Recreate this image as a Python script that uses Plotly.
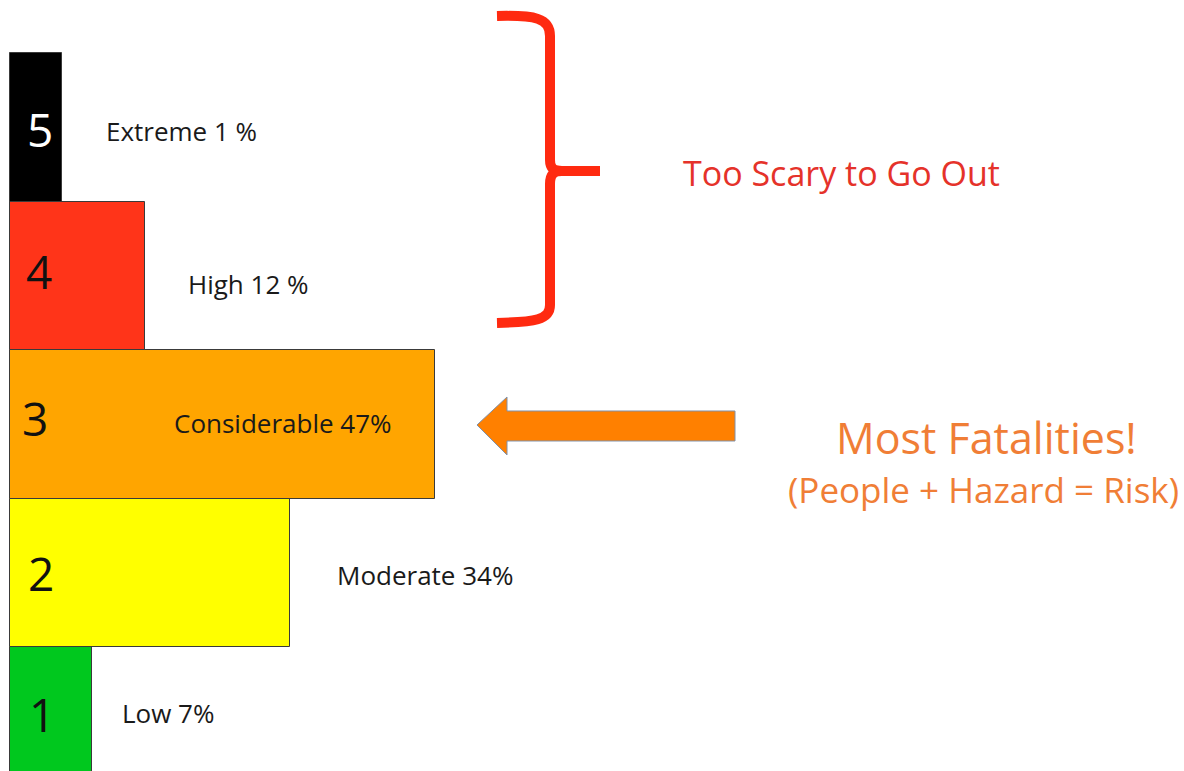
import plotly.graph_objects as go

# ---- data ----
levels = [1, 2, 3, 4, 5]
level_names = ["Low", "Moderate", "Considerable", "High", "Extreme"]
fatality_pct = ["7%", "34%", "47%", "12 %", "1 %"]
bar_length = [82, 280, 425, 135, 52]          # drawn bar lengths (picture units)
bar_colors = ["#00C81E", "#FFFF00", "#FFA500", "#FF3419", "#000000"]
num_colors = ["#111111", "#111111", "#111111", "#111111", "#FFFFFF"]

W, H = 1184, 771
FONT = "Open Sans"


def px(x, y):
    return x / W, 1 - y / H


def path_from(points, close=False):
    s = ""
    for cmd, pts in points:
        if cmd == "L":
            for p in pts:
                s += "L %.5f,%.5f " % px(*p)
        else:
            s += cmd + " " + " ".join("%.5f,%.5f" % px(*p) for p in pts) + " "
    if close:
        s += "Z"
    return s


fig = go.Figure()
fig.add_trace(go.Bar(
    y=levels, x=bar_length, orientation="h", width=1, base=0,
    marker=dict(color=bar_colors, line=dict(color="#3a3a3a", width=1)),
    hoverinfo="skip", showlegend=False,
))

annotations = []
# level numbers inside bars
num_x = [32, 31, 25, 29, 30]
num_dy = [0.054, 0.0, 0.047, 0.034, -0.013]
for lv, c, nx, dy in zip(levels, num_colors, num_x, num_dy):
    annotations.append(dict(x=nx, y=lv + dy, xref="x", yref="y", text=str(lv),
                            showarrow=False, xanchor="center", yanchor="middle",
                            font=dict(family=FONT, size=46, color=c)))
# level labels
label_x = [110, 325, 162, 176, 94]
label_dy = [0.058, -0.013, 0.007, -0.053, -0.027]
for lv, nm, pct, lx, dy in zip(levels, level_names, fatality_pct, label_x, label_dy):
    annotations.append(dict(x=lx, y=lv + dy, xref="x", yref="y", text=f"{nm} {pct}",
                            showarrow=False, xanchor="left", yanchor="middle",
                            font=dict(family=FONT, size=26, color="#1a1a1a")))

# right-side texts
x0, y0 = px(841, 173)
annotations.append(dict(x=x0, y=y0, xref="paper", yref="paper", text="Too Scary to Go Out",
                        showarrow=False, xanchor="center", yanchor="middle",
                        font=dict(family=FONT, size=34, color="#E5322A")))
x0, y0 = px(986, 437)
annotations.append(dict(x=x0, y=y0, xref="paper", yref="paper", text="Most Fatalities!",
                        showarrow=False, xanchor="center", yanchor="middle",
                        font=dict(family=FONT, size=43, color="#F07E36")))
x0, y0 = px(984, 490)
annotations.append(dict(x=x0, y=y0, xref="paper", yref="paper", text="(People + Hazard = Risk)",
                        showarrow=False, xanchor="center", yanchor="middle",
                        font=dict(family=FONT, size=35, color="#F07E36")))

shapes = []
brace_color = "#FF2A10"
upper = path_from([("M", [(497, 16)]), ("C", [(535, 15), (550, 18), (550, 36)]),
                   ("L", [(550, 160)]), ("C", [(550, 168), (553, 171), (562, 171)]),
                   ("L", [(600, 171)])])
lower = path_from([("M", [(562, 171)]), ("C", [(553, 171), (550, 175), (550, 184)]),
                   ("L", [(550, 305)]), ("C", [(550, 320), (535, 322), (497, 323)])])
for p in (upper, lower):
    shapes.append(dict(type="path", xref="paper", yref="paper", path=p,
                       line=dict(color=brace_color, width=10)))
arrow = path_from([("M", [(477, 425)]), ("L", [(507, 397), (507, 411), (735, 411),
                                               (735, 441), (507, 441), (507, 455)])], close=True)
shapes.append(dict(type="path", xref="paper", yref="paper", path=arrow,
                   fillcolor="#FF8000", line=dict(color="#8090a8", width=1)))

fig.update_layout(
    width=W, height=H, autosize=False,
    margin=dict(l=0, r=0, t=0, b=0),
    paper_bgcolor="white", plot_bgcolor="white",
    xaxis=dict(range=[-10, W - 10], visible=False, fixedrange=True),
    yaxis=dict(range=[0.668, 5.857], visible=False, fixedrange=True),
    annotations=annotations, shapes=shapes, bargap=0,
)

fig.write_html("out.html", config={"displayModeBar": False})
